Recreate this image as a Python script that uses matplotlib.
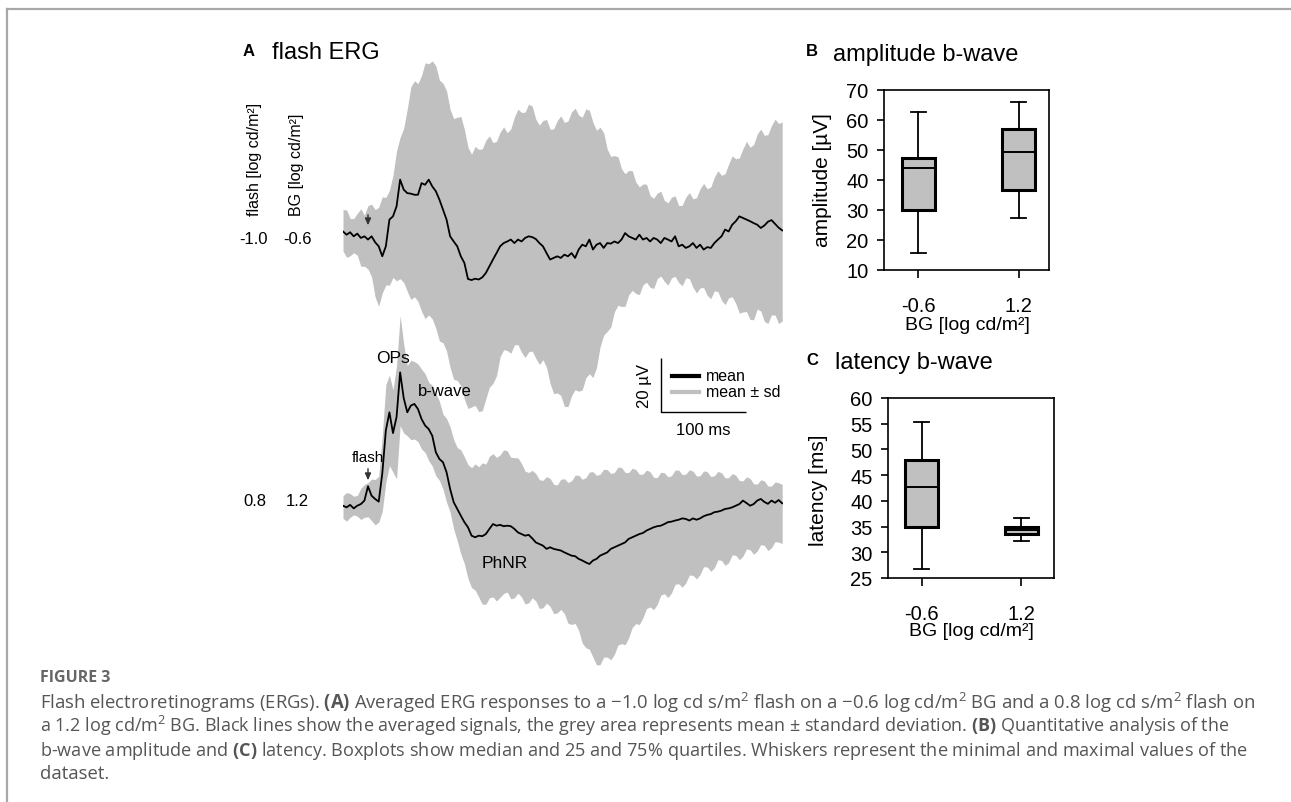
import numpy as np
import matplotlib
matplotlib.use("Agg")
import matplotlib.pyplot as plt
from matplotlib.lines import Line2D
from matplotlib.patches import FancyArrowPatch

plt.rcParams['font.family'] = ['Liberation Sans', 'DejaVu Sans']
plt.rcParams['mathtext.fontset'] = 'custom'
plt.rcParams['mathtext.rm'] = 'Open Sans'
plt.rcParams['mathtext.bf'] = 'Open Sans:bold'
plt.rcParams['mathtext.it'] = 'Open Sans:italic'

# ---------------- data ----------------
T0 = -30.0          # ms, first sample (flash at 0 ms)
DT = 4.22           # ms between samples

# -1.0 flash on -0.6 BG (µV): mean, upper and lower edge of mean ± sd
top_mean = [0.2, -1.0, -0.1, -1.6, -0.6, -2.2, -1.6, -2.8, -1.6, -3.8,
            -5.3, -9.0, -5.3, 4.6, 5.8, 9.5, 19.4, 15.7, 14.4, 14.2,
            13.8, 13.8, 18.1, 17.5, 19.4, 16.9, 15.1, 12.0, 8.3, 4.6,
            -1.6, -3.5, -5.3, -9.0, -11.5, -17.4, -17.8, -17.3, -17.6, -16.8,
            -15.2, -12.7, -10.2, -7.8, -5.3, -4.1, -3.5, -2.8, -4.1, -2.8,
            -3.5, -2.2, -1.6, -1.9, -2.6, -4.1, -5.3, -7.8, -10.2, -9.6,
            -9.0, -9.6, -8.4, -9.0, -7.8, -9.6, -6.5, -4.7, -5.3, -2.8,
            -6.5, -4.7, -4.1, -5.9, -4.1, -4.3, -3.5, -4.1, -2.8, -0.4,
            -1.6, -2.2, -2.8, -1.0, -2.8, -2.2, -3.5, -2.2, -2.8, -4.1,
            -2.2, -2.8, -3.5, -1.6, -5.3, -4.7, -5.9, -5.3, -4.1, -5.9,
            -4.7, -6.5, -5.6, -5.9, -4.1, -2.8, -1.6, 0.9, 0.2, 2.7,
            4.0, 5.8, 5.2, 4.6, 4.0, 3.3, 2.7, 1.5, 2.4, 3.8,
            4.4, 3.0, 1.6, 0.6]
top_hi = [8.3, 8.2, 5.0, 5.0, 6.9, 8.6, 6.2, 9.8, 10.3, 8.3,
          9.2, 13.0, 12.8, 15.4, 21.0, 30.1, 35.1, 38.4, 45.6, 53.8,
          56.0, 55.0, 58.0, 62.7, 62.3, 63.4, 61.5, 56.3, 55.1, 52.3,
          45.4, 42.0, 42.5, 42.8, 38.0, 31.4, 28.8, 31.7, 30.6, 30.8,
          34.0, 35.6, 33.1, 33.6, 37.0, 38.9, 36.8, 38.2, 42.6, 45.5,
          44.3, 44.4, 47.4, 46.6, 41.8, 39.6, 41.3, 41.7, 38.1, 38.2,
          41.3, 43.0, 40.6, 41.1, 44.5, 45.9, 43.3, 42.5, 45.6, 45.1,
          40.6, 37.7, 38.8, 36.8, 30.7, 28.0, 28.3, 27.9, 23.4, 21.6,
          22.8, 22.7, 18.5, 16.7, 17.8, 17.7, 13.5, 12.5, 14.4, 15.1,
          11.7, 10.8, 12.9, 13.4, 9.8, 9.9, 12.9, 14.6, 12.3, 12.7,
          16.0, 18.0, 16.0, 16.7, 20.3, 22.7, 21.0, 21.6, 25.2, 28.2,
          27.1, 27.5, 30.8, 33.6, 31.4, 32.4, 36.3, 38.1, 35.8, 36.1,
          39.4, 41.8, 40.2, 40.8]
top_lo = [-7.0, -9.4, -8.8, -7.7, -8.6, -12.7, -12.7, -13.7, -16.6, -24.1,
          -27.5, -22.6, -19.6, -19.7, -16.8, -18.1, -17.3, -18.7, -22.0, -25.0,
          -24.0, -25.7, -29.4, -32.1, -30.7, -32.2, -35.7, -40.4, -41.0, -44.1,
          -50.2, -54.6, -55.0, -57.0, -62.0, -65.4, -64.8, -64.2, -66.5, -66.2,
          -61.8, -57.5, -56.1, -53.2, -46.2, -43.6, -43.9, -44.9, -41.8, -41.7,
          -44.6, -46.5, -44.4, -44.1, -46.8, -49.1, -47.3, -50.2, -56.1, -59.9,
          -59.6, -60.6, -64.6, -64.7, -60.7, -58.4, -59.0, -58.5, -54.0, -52.5,
          -53.9, -50.2, -42.5, -38.2, -36.8, -35.2, -29.6, -27.1, -27.6, -27.5,
          -23.3, -21.6, -22.8, -23.2, -19.6, -18.6, -20.5, -20.9, -17.3, -16.3,
          -18.3, -19.7, -17.0, -16.4, -18.7, -19.9, -17.0, -17.3, -20.5, -22.6,
          -20.7, -20.6, -23.5, -24.7, -21.8, -22.1, -25.3, -26.9, -24.4, -24.0,
          -26.5, -30.1, -29.6, -29.5, -32.4, -32.5, -28.5, -29.3, -33.1, -33.9,
          -30.7, -30.8, -33.9, -33.0]

# 0.8 flash on 1.2 BG (µV): mean, upper and lower edge of mean ± sd
bot_mean = [0.1, -0.5, 0.4, -0.9, 0.1, 0.7, 2.0, 7.3, 3.8, 2.6,
            1.6, 12.0, 28.0, 34.7, 27.0, 33.0, 49.5, 40.0, 34.7, 37.2,
            37.8, 35.9, 32.2, 29.8, 28.5, 26.0, 19.9, 17.4, 16.2, 12.5,
            6.3, 1.4, -1.1, -3.6, -6.0, -7.9, -11.0, -11.6, -11.0, -11.2,
            -10.4, -8.5, -6.7, -7.3, -7.0, -7.5, -7.3, -7.5, -8.5, -9.8,
            -10.4, -11.0, -10.7, -12.0, -13.5, -14.1, -14.7, -15.9, -15.3, -15.9,
            -16.2, -16.5, -17.2, -17.8, -18.4, -18.6, -19.6, -20.2, -20.9, -21.5,
            -20.2, -19.6, -18.4, -17.8, -17.2, -15.9, -15.3, -14.7, -14.1, -13.5,
            -12.2, -11.6, -11.0, -10.4, -10.0, -9.1, -8.5, -7.9, -7.5, -7.3,
            -6.7, -6.0, -5.8, -5.4, -5.1, -4.6, -4.8, -5.4, -4.6, -5.1,
            -4.6, -3.8, -3.3, -3.0, -2.3, -2.1, -1.7, -1.1, -0.9, -0.5,
            0.1, 0.7, 2.0, 1.1, 0.1, 0.7, 2.0, 2.6, 1.5, 0.8,
            2.0, 1.2, 2.2, 1.0]
bot_hi = [3.8, 5.0, 4.6, 3.6, 3.9, 6.5, 8.0, 8.6, 10.0, 9.8,
          11.0, 26.0, 45.0, 48.5, 43.0, 52.0, 70.5, 60.0, 52.0, 54.0,
          53.5, 52.6, 50.7, 49.0, 45.8, 44.7, 41.7, 38.8, 34.0, 32.4,
          29.3, 24.6, 21.6, 20.8, 18.2, 15.3, 14.2, 15.6, 14.5, 16.0,
          15.5, 18.4, 19.4, 18.0, 18.9, 20.8, 20.4, 18.0, 17.9, 17.8,
          15.7, 12.9, 12.4, 13.2, 12.0, 9.7, 9.5, 10.9, 10.2, 8.0,
          7.8, 9.9, 10.1, 8.7, 9.3, 11.4, 11.4, 9.9, 10.5, 12.6,
          12.7, 11.3, 11.8, 13.6, 13.5, 12.0, 12.4, 14.4, 14.3, 12.4,
          12.4, 14.0, 13.5, 11.7, 11.8, 13.3, 12.7, 10.6, 10.5, 12.5,
          12.3, 10.8, 11.2, 13.3, 13.3, 11.6, 11.8, 13.4, 12.9, 11.1,
          11.2, 13.0, 12.7, 10.9, 11.2, 12.8, 12.3, 10.4, 10.5, 12.0,
          11.4, 9.4, 9.3, 10.8, 10.2, 8.2, 8.1, 9.7, 9.3, 7.4,
          7.4, 8.9, 8.6, 8.0]
bot_lo = [-4.6, -5.6, -4.2, -3.3, -3.8, -5.0, -4.2, -4.0, -5.4, -7.0,
          -6.0, -2.0, 8.8, 15.0, 12.5, 10.0, 29.8, 27.0, 26.0, 24.6,
          24.8, 23.8, 21.1, 19.8, 16.8, 14.8, 11.2, 9.5, 6.3, 1.4,
          -2.3, -8.6, -12.9, -17.8, -21.4, -26.9, -30.2, -31.2, -33.7, -36.4,
          -36.4, -34.0, -33.7, -35.2, -33.8, -32.4, -31.9, -34.4, -34.0, -32.3,
          -33.7, -36.3, -35.9, -34.0, -35.2, -38.0, -37.7, -36.0, -37.2, -39.9,
          -39.6, -38.3, -39.9, -43.4, -43.9, -43.5, -46.1, -50.8, -52.5, -53.1,
          -56.0, -58.9, -58.8, -56.0, -56.0, -57.0, -55.0, -51.5, -51.0, -51.4,
          -48.8, -45.0, -43.6, -43.9, -41.4, -38.0, -37.4, -38.4, -36.5, -33.0,
          -32.5, -33.9, -32.2, -29.0, -28.8, -30.1, -28.5, -25.6, -25.7, -27.0,
          -25.4, -22.5, -22.6, -24.2, -22.9, -19.9, -20.2, -22.0, -21.0, -18.1,
          -18.3, -19.9, -18.6, -15.9, -16.2, -17.9, -16.7, -14.3, -14.6, -16.5,
          -15.5, -13.2, -13.4, -13.9]
BOT_OFFSET = -101.5   # vertical offset of the second recording (µV)

# box plot statistics
bg_levels = ['-0.6', '1.2']
amp_whislo = [15.8, 27.2]
amp_q1 = [30.0, 36.7]
amp_med = [44.1, 49.3]
amp_q3 = [47.4, 57.1]
amp_whishi = [62.7, 66.0]

lat_whislo = [26.8, 32.2]
lat_q1 = [34.9, 33.5]
lat_med = [42.6, 34.4]
lat_q3 = [48.0, 35.0]
lat_whishi = [55.4, 36.6]

# ---------------- figure ----------------
W, H = 1291, 803
fig = plt.figure(figsize=(W / 100, H / 100), dpi=100)
fig.patch.set_facecolor('white')


def px_axes(l, t, r, b):
    return fig.add_axes([l / W, 1 - b / H, (r - l) / W, (b - t) / H])


def ftext(x, y, s, **kw):
    return fig.text(x / W, 1 - y / H, s, **kw)


def fline(xs, ys, **kw):
    fig.add_artist(Line2D([x / W for x in xs], [1 - y / H for y in ys], **kw))


# page frame
fline([7, W], [10, 10], color='#a8a8a8', lw=1.6)
fline([7, 7], [10, H], color='#a8a8a8', lw=1.6)

GREY = '#c0c0c0'

# ---------- panel A ----------
axA = px_axes(343, 40, 783, 680)
axA.set_xlim(-30, 490)
axA.set_ylim(-165.6, 71.5)
axA.axis('off')

t = T0 + DT * np.arange(len(top_mean))

axA.fill_between(t, top_lo, top_hi, color=GREY, lw=0)
axA.fill_between(t, np.array(bot_lo) + BOT_OFFSET, np.array(bot_hi) + BOT_OFFSET,
                 color=GREY, lw=0)
axA.plot(t, top_mean, color='black', lw=1.3)
axA.plot(t, np.array(bot_mean) + BOT_OFFSET, color='black', lw=1.3)

# scale bar (100 ms, 20 µV)
SB_T, SB_V = 346, -66.7
axA.plot([SB_T, SB_T, SB_T + 100], [SB_V + 20, SB_V, SB_V], color='black', lw=1.0,
         solid_capstyle='butt')

ftext(243, 51, 'A', fontsize=12, fontweight='bold', ha='left', va='center')
ftext(272, 53, 'flash ERG', fontsize=17, ha='left', va='center')

ftext(254, 216, 'flash [log cd/m²]', fontsize=11.5, rotation=90,
      rotation_mode='anchor', ha='left', va='center')
ftext(296, 216, 'BG [log cd/m²]', fontsize=11.5, rotation=90,
      rotation_mode='anchor', ha='left', va='center')
ftext(253, 239, '-1.0', fontsize=12, ha='center', va='center')
ftext(297, 239, '-0.6', fontsize=12, ha='center', va='center')
ftext(255, 502, '0.8', fontsize=12, ha='center', va='center')
ftext(297, 502, '1.2', fontsize=12, ha='center', va='center')

ftext(393, 359, 'OPs', fontsize=12.5, ha='center', va='center')
ftext(445, 392, 'b-wave', fontsize=12, ha='center', va='center')
ftext(368, 458, 'flash', fontsize=11, ha='center', va='center')
ftext(505, 563, 'PhNR', fontsize=12.5, ha='center', va='center')

for (x, y0, y1) in [(368, 213, 229), (368, 467, 484)]:
    fig.add_artist(FancyArrowPatch(
        (x / W, 1 - y0 / H), (x / W, 1 - y1 / H), transform=fig.transFigure,
        arrowstyle='-|>,head_length=4,head_width=1.8', color='#333333', lw=1.0))

# legend
fline([672, 699], [377, 377], color='black', lw=3)
fline([672, 699], [393, 393], color=GREY, lw=3)
ftext(706, 377, 'mean', fontsize=11.5, ha='left', va='center')
ftext(706, 393, 'mean ± sd', fontsize=11.5, ha='left', va='center')
ftext(645, 386, '20 µV', fontsize=12, rotation=90, ha='center', va='center')
ftext(703, 431, '100 ms', fontsize=12, ha='center', va='center')


# ---------- panels B and C ----------
def box_panel(ax, lo, q1, med, q3, hi, ylim, yticks, xlim):
    stats = [dict(med=med[i], q1=q1[i], q3=q3[i], whislo=lo[i], whishi=hi[i],
                  fliers=[], label=bg_levels[i]) for i in range(len(bg_levels))]
    ax.bxp(stats, positions=[1, 2], widths=0.33, patch_artist=True,
           showfliers=False, capwidths=0.15,
           boxprops=dict(facecolor=GREY, edgecolor='black', linewidth=2.2),
           whiskerprops=dict(color='black', linewidth=1.3),
           capprops=dict(color='black', linewidth=1.3),
           medianprops=dict(color='black', linewidth=1.4))
    ax.set_xlim(*xlim)
    ax.set_ylim(*ylim)
    ax.set_yticks(yticks)
    ax.set_xticks([1, 2])
    ax.set_xticklabels(bg_levels)
    for sp in ax.spines.values():
        sp.set_linewidth(1.2)
    ax.tick_params(axis='y', direction='out', length=5, width=1.2, labelsize=14.5, pad=6)
    ax.tick_params(axis='x', direction='out', length=6, width=1.2, labelsize=14.5, pad=13)


axB = px_axes(884, 91, 1049, 271)
box_panel(axB, amp_whislo, amp_q1, amp_med, amp_q3, amp_whishi,
          (10, 70), np.arange(10, 71, 10), (0.66, 2.3))
ftext(806, 52, 'B', fontsize=12, fontweight='bold', ha='left', va='center')
ftext(833, 55, 'amplitude b-wave', fontsize=17, ha='left', va='center')
ftext(822, 180, 'amplitude [µV]', fontsize=15, rotation=90, ha='center', va='center')
ftext(967, 325, 'BG [log cd/m²]', fontsize=14, ha='center', va='center')

axC = px_axes(888, 399, 1054, 579)
box_panel(axC, lat_whislo, lat_q1, lat_med, lat_q3, lat_whishi,
          (25, 60), np.arange(25, 61, 5), (0.66, 2.33))
ftext(806, 361, 'C', fontsize=12, fontweight='bold', ha='left', va='center')
ftext(835, 363, 'latency b-wave', fontsize=17, ha='left', va='center')
ftext(819, 490, 'latency [ms]', fontsize=15, rotation=90, ha='center', va='center')
ftext(971, 632, 'BG [log cd/m²]', fontsize=14, ha='center', va='center')

# ---------- caption ----------
CAP = '#555555'
CAPFONT = ['Open Sans', 'DejaVu Sans']
ftext(40, 682, 'FIGURE 3', fontsize=11.5, fontweight='bold', color='#666666',
      family=CAPFONT, ha='left', va='baseline')
cap_lines = [
    r'Flash electroretinograms (ERGs). $\mathbf{(A)}$ Averaged ERG responses to a −1.0 log cd s/m$^{2}$ '
    r'flash on a −0.6 log cd/m$^{2}$ BG and a 0.8 log cd s/m$^{2}$ flash on',
    r'a 1.2 log cd/m$^{2}$ BG. Black lines show the averaged signals, the grey area represents '
    r'mean ± standard deviation. $\mathbf{(B)}$ Quantitative analysis of the',
    r'b-wave amplitude and $\mathbf{(C)}$ latency. Boxplots show median and 25 and 75% quartiles. '
    r'Whiskers represent the minimal and maximal values of the',
    'dataset.',
]
cap_right = [1259, 1232, 1247, None]   # right end of each caption line (px)
cap_texts = [ftext(40, 709 + 23.5 * i, line, fontsize=12.5, color=CAP, family=CAPFONT,
                   ha='left', va='baseline') for i, line in enumerate(cap_lines)]
renderer = fig.canvas.get_renderer()
sizes = []
for txt, right in zip(cap_texts, cap_right):
    if right is not None:
        w0 = txt.get_window_extent(renderer).width
        sizes.append(12.5 * (right - 40) / w0)
for txt, right in zip(cap_texts, cap_right):
    txt.set_fontsize(sizes[cap_texts.index(txt)] if right is not None else sizes[0])

fig.savefig('out.png', dpi=100, facecolor='white')
